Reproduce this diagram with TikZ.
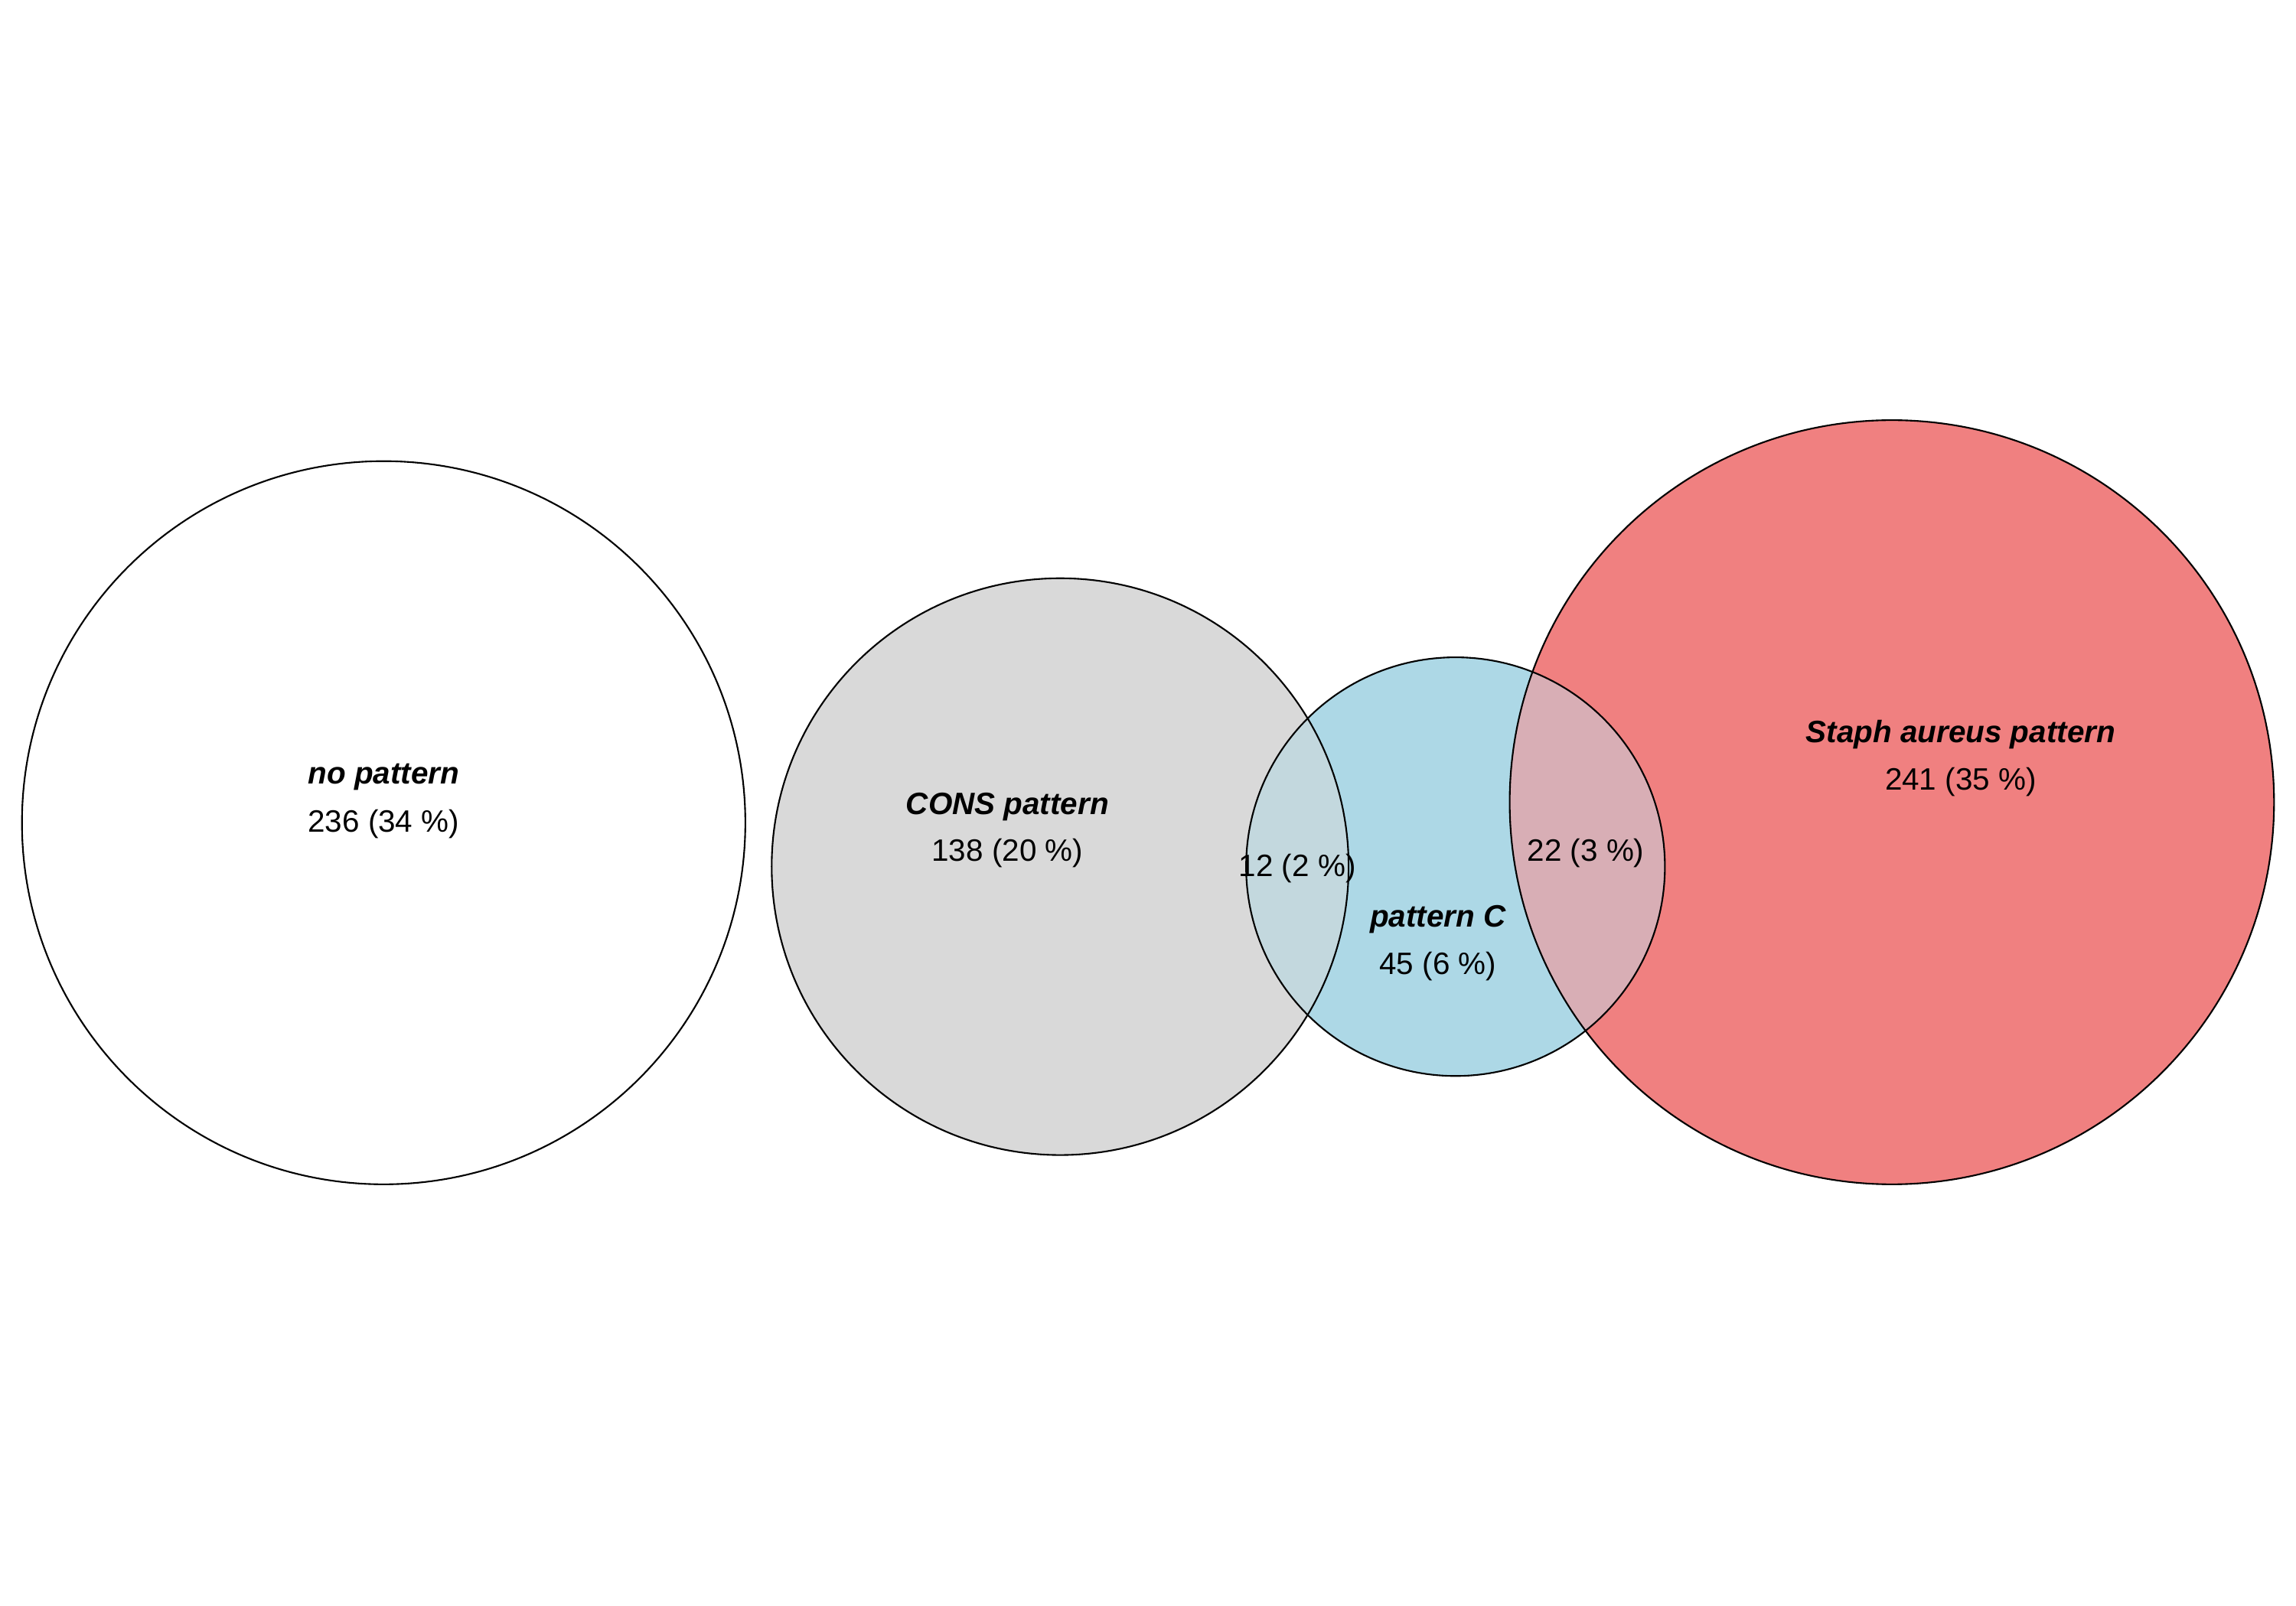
\documentclass[tikz,border=0pt]{standalone}
\usepackage{fontspec}
\setmainfont{Liberation Sans}
\definecolor{consfill}{HTML}{D9D9D9}
\definecolor{cfill}{HTML}{ADD8E6}
\definecolor{stfill}{HTML}{F08080}
\definecolor{consc}{HTML}{C3D8DE}
\definecolor{cst}{HTML}{D8AEB5}
\begin{document}
\begin{tikzpicture}[x=0.01913cm,y=-0.01913cm,
		set/.style={draw, line width=0.6pt},
		lbl/.style={font=\fontsize{11.5}{14}\selectfont\bfseries\itshape},
		cnt/.style={font=\fontsize{11.5}{14}\selectfont},
	]
		\useasboundingbox (0,0) rectangle (1568,1097);
		% circles
		\fill[stfill] (1292,548) circle (261);
		\fill[consfill] (724,592) circle (197);
		\fill[cfill] (994,592) circle (143);
		\begin{scope}
			\clip (724,592) circle (197);
			\fill[consc] (994,592) circle (143);
		\end{scope}
		\begin{scope}
			\clip (1292,548) circle (261);
			\fill[cst] (994,592) circle (143);
		\end{scope}
		\draw[set] (262,562) circle (247);
		\draw[set] (724,592) circle (197);
		\draw[set] (994,592) circle (143);
		\draw[set] (1292,548) circle (261);
		% labels
		\node (nop) [lbl] at (262,531) {no pattern};
		\node (nopn) [cnt] at (262,563) {236 (34 \%)};
		\node (cons) [lbl] at (688,551) {CONS pattern};
		\node (consn) [cnt] at (688,583) {138 (20 \%)};
		\node (consc) [cnt] at (886,593) {12 (2 \%)};
		\node (pc) [lbl] at (982,628) {pattern C};
		\node (pcn) [cnt] at (982,660) {45 (6 \%)};
		\node (pcst) [cnt] at (1083,583) {22 (3 \%)};
		\node (st) [lbl] at (1339,502) {Staph aureus pattern};
		\node (stn) [cnt] at (1339,534) {241 (35 \%)};
	\end{tikzpicture}
\end{document}
